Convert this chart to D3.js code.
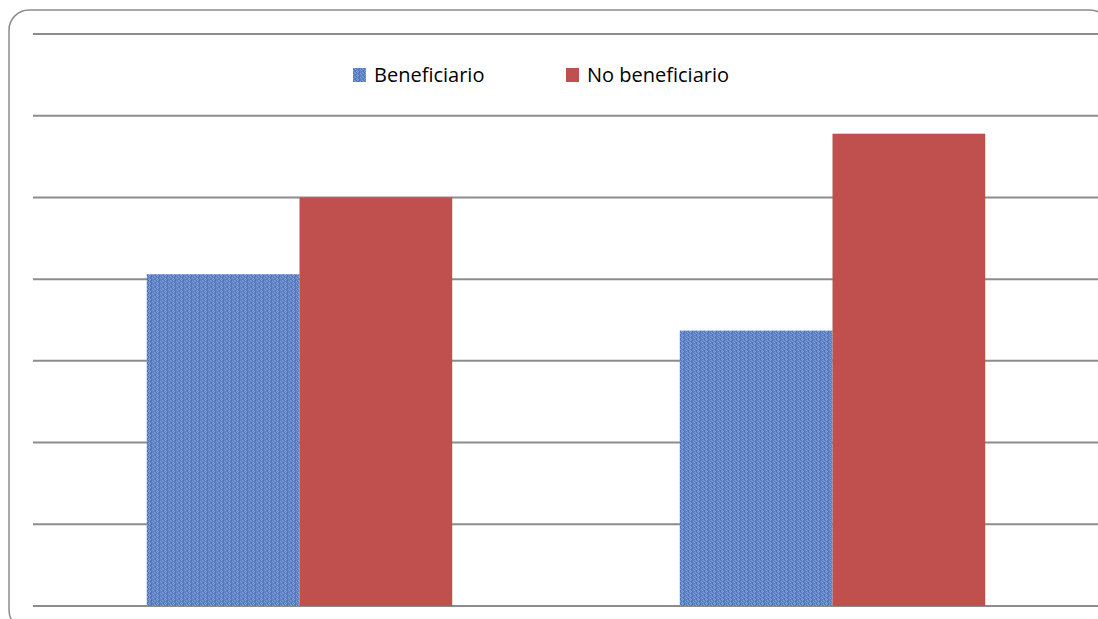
<!DOCTYPE html>
<html>
<head>
<meta charset="utf-8">
<script src="https://cdn.jsdelivr.net/npm/d3@7"></script>
<style>
  html, body { margin: 0; padding: 0; background: #fff; }
  svg { display: block; }
  text { font-family: "Open Sans", "Liberation Sans", sans-serif; }
</style>
</head>
<body>
<svg id="chart" width="1098" height="619"></svg>
<script>
// Data
const categories = ["Grupo 1", "Grupo 2"];
const seriesNames = ["Beneficiario", "No beneficiario"];
const beneficiario = [40.6, 33.7];
const noBeneficiario = [50.0, 57.8];
const gridTicks = [0, 10, 20, 30, 40, 50, 60, 70];

const W = 1098, H = 619;
const margin = { left: 33, right: -1, top: 34, bottom: 13 };
const svg = d3.select("#chart");

// Textured fill for the first series
const defs = svg.append("defs");
const pat = defs.append("pattern")
  .attr("id", "bluetex")
  .attr("patternUnits", "userSpaceOnUse")
  .attr("width", 8).attr("height", 4);
const tile = [
  "abacbaca",
  "cabaacab",
  "bacabcaa",
  "aacbabca"
];
const shade = { a: "#5f83c5", b: "#84a3da", c: "#4d70b4" };
tile.forEach((row, y) => {
  row.split("").forEach((k, x) => {
    pat.append("rect").attr("x", x).attr("y", y).attr("width", 1).attr("height", 1)
      .attr("fill", shade[k]);
  });
});

// Chart frame
svg.append("rect")
  .attr("x", 9).attr("y", 10)
  .attr("width", 1101).attr("height", 620)
  .attr("rx", 20).attr("ry", 20)
  .attr("fill", "#fff")
  .attr("stroke", "#8c8c8c").attr("stroke-width", 1.5);

const x0 = d3.scaleBand()
  .domain(categories)
  .range([margin.left, W - margin.right])
  .paddingInner(0).paddingOuter(0);

const x1 = d3.scaleBand()
  .domain(seriesNames)
  .range([0, x0.bandwidth()])
  .paddingInner(0)
  .paddingOuter(0.745);

const y = d3.scaleLinear()
  .domain([0, 70])
  .range([H - margin.bottom, margin.top]);

// Horizontal gridlines
svg.append("g")
  .selectAll("line")
  .data(gridTicks)
  .join("line")
  .attr("x1", margin.left).attr("x2", W)
  .attr("y1", d => y(d)).attr("y2", d => y(d))
  .attr("stroke", "#8c8c8c").attr("stroke-width", 2);

// Bars
const rows = categories.map((c, i) => ({
  cat: c,
  vals: [
    { key: seriesNames[0], v: beneficiario[i], fill: "url(#bluetex)" },
    { key: seriesNames[1], v: noBeneficiario[i], fill: "#c0504d" }
  ]
}));

const groups = svg.append("g")
  .selectAll("g")
  .data(rows)
  .join("g")
  .attr("transform", d => `translate(${x0(d.cat)},0)`);

groups.selectAll("rect")
  .data(d => d.vals)
  .join("rect")
  .attr("x", d => x1(d.key))
  .attr("width", x1.bandwidth())
  .attr("y", d => y(d.v))
  .attr("height", d => y(0) - y(d.v))
  .attr("fill", d => d.fill);

// Legend
const legendItems = [
  { name: seriesNames[0], fill: "url(#bluetex)", x: 353 },
  { name: seriesNames[1], fill: "#c0504d", x: 566 }
];
const lg = svg.append("g")
  .selectAll("g")
  .data(legendItems)
  .join("g")
  .attr("transform", d => `translate(${d.x},68)`);
lg.append("rect")
  .attr("width", 13).attr("height", 14)
  .attr("fill", d => d.fill);
lg.append("text")
  .attr("x", 21).attr("y", 14)
  .attr("font-size", 20)
  .attr("fill", "#000")
  .text(d => d.name);
</script>
</body>
</html>
